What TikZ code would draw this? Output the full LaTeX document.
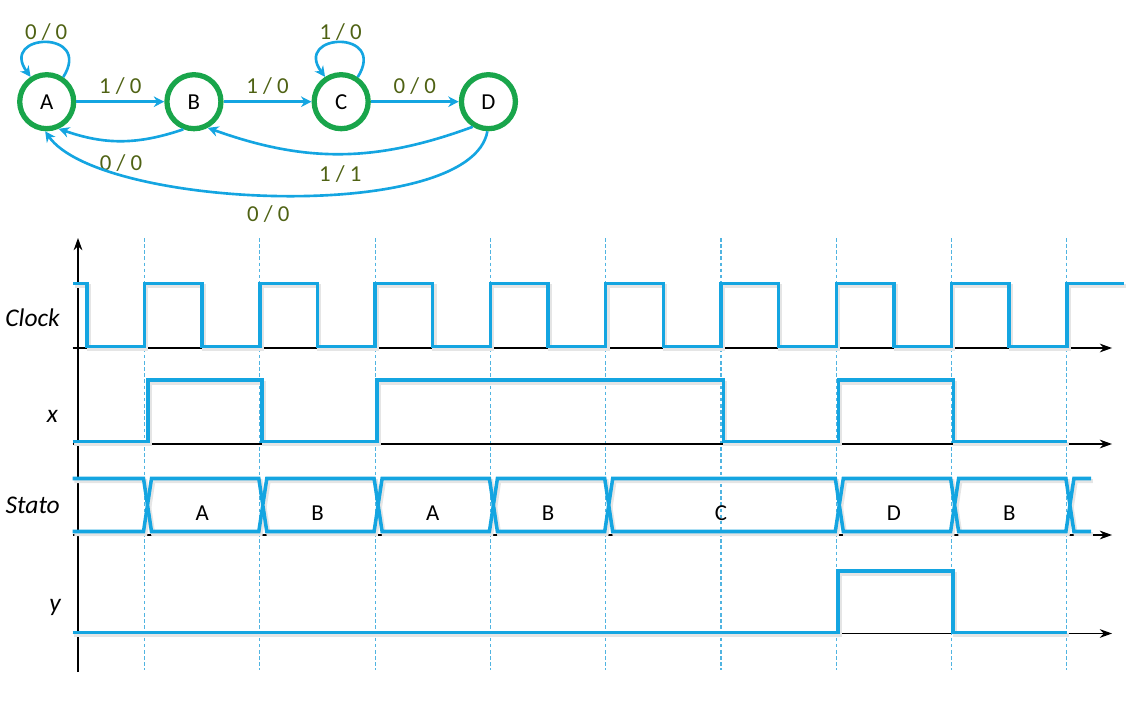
\documentclass[tikz,border=0pt]{standalone}
\usepackage{fontspec}
\setmainfont{Carlito}
\usepackage{xcolor}
\usepackage{tikz}
\usetikzlibrary{arrows.meta}
\usetikzlibrary{positioning}

\definecolor{wireblue}{RGB}{20,165,225}
\definecolor{ringgreen}{RGB}{25,165,75}
\definecolor{iogreen}{RGB}{79,98,20}
\definecolor{gridblue}{RGB}{80,180,225}

\tikzset{
  state/.style={circle, draw=ringgreen, line width=3pt, fill=white, minimum size=1.08cm, inner sep=0pt, font=\fontsize{13}{15}\selectfont},
  trans/.style={draw=wireblue, line width=1.5pt, -{Stealth[length=6pt,width=6pt]}},
  io/.style={text=iogreen, font=\fontsize{13}{15}\selectfont, inner sep=2pt},
  axis/.style={black, line width=0.7pt, -{Stealth[length=7pt,width=5pt]}},
  clkline/.style={gridblue, line width=0.6pt, dash pattern=on 2pt off 1.5pt},
  wave/.style={wireblue, line width=2pt, preaction={draw=black!10, line width=2.4pt, transform canvas={shift={(1pt,-1.5pt)}}}},
  sig/.style={anchor=east, font=\fontsize{14.5}{16}\selectfont\itshape},
  busval/.style={font=\fontsize{13}{15}\selectfont}
}

\begin{document}
\begin{tikzpicture}[x=0.02cm, y=0.02cm]
  \useasboundingbox (0,0) rectangle (1148,704);

  % state diagram
  \node[state] (A) at (46.7,602.3) {A};
  \node[state, right=1.76cm of A] (B) {B};
  \node[state, right=1.76cm of B] (C) {C};
  \node[state, right=1.76cm of C] (D) {D};

  \draw[trans] (A.56) .. controls +(30,48) and +(-32,44) .. node[io, midway, above=-1.5pt] {0 / 0} (A.123);
  \draw[trans] (C.56) .. controls +(30,48) and +(-32,44) .. node[io, midway, above=-1.5pt] {1 / 0} (C.123);
  \draw[trans] (A) -- node[io, above=1.2pt] {1 / 0} (B);
  \draw[trans] (B) -- node[io, above=1.2pt] {1 / 0} (C);
  \draw[trans] (C) -- node[io, above=1.2pt] {0 / 0} (D);
  \draw[trans] (B.-111) to[bend left=19] node[io, below=5pt] {0 / 0} (A.-66);
  \draw[trans] (D.-122) to[bend left=20] node[io, below=4pt] {1 / 1} (B.-62);
  \draw[trans] (D.-92) to[out=-100, in=-55, looseness=0.55] node[io, pos=0.52, below=3.5pt] {0 / 0} (A.-93);

  % timing diagram
  \foreach \k in {0,...,8}
    \draw[clkline] (144.5+115.3*\k,466) -- (144.5+115.3*\k,34);

  \coordinate (orig) at (78,32);
  \coordinate (vtop) at (78,466);
  \draw[axis] (orig) -- (vtop);
  \foreach \y in {356,260,169,70.5}
    \draw[axis] (72.7,\y) -- (1112,\y);

  \node[sig] (clk) at (66,386) {Clock};
  \node[sig] (xin) at (64,288) {x};
  \node[sig] (stato) at (66,199) {Stato};
  \node[sig] (yout) at (67,97) {y};

  \draw[wave] (73,420.7) -- (87,420.7) -- (87,357.3)
    foreach \k in {0,...,7} { -- (144.5+115.3*\k,357.3) -- ++(0,63.4) -- ++(57.6,0) -- ++(0,-63.4) }
    -- (1066.9,357.3) -- (1066.9,420.7) -- (1124,420.7);

  \draw[wave] (72.7,262.5) -- (148,262.5) |- (262,324) |- (377,262.5) |- (723.3,324)
    |- (838.3,262.5) |- (953.6,324) |- (1067,262.5);

  \draw[wave] (72.7,225.5) -- (143.5,225.5) -- (147.5,199) -- (143.5,172.5) -- (72.7,172.5);
  \foreach \a/\b in {144.5/259.8, 259.8/375.1, 375.1/490.4, 490.4/605.7, 605.7/836.3, 836.3/951.6, 951.6/1066.9}
    \draw[wave] (\a+3,199) -- (\a+7,225.5) -- (\b-1,225.5) -- (\b+3,199) -- (\b-1,172.5) -- (\a+7,172.5) -- cycle;
  \draw[wave] (1091,225.5) -- (1073.9,225.5) -- (1069.9,199) -- (1073.9,172.5) -- (1091,172.5);

  \foreach \x/\s [count=\i] in {202.2/A, 317.5/B, 432.8/A, 548/B, 721/C, 894/D, 1009.3/B}
    \node[busval] (st\i) at (\x,191) {\s};

  \draw[wave] (72.7,71.3) -- (837.8,71.3) |- (953.1,133) |- (1067,71.3);
\end{tikzpicture}
\end{document}
